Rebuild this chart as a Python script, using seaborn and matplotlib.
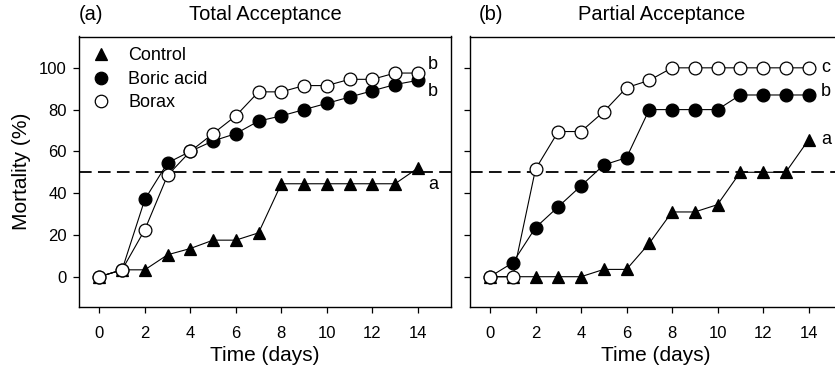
import numpy as np
import pandas as pd
import matplotlib
matplotlib.use("Agg")
import matplotlib.pyplot as plt
from matplotlib.lines import Line2D
import seaborn as sns

days = list(range(15))

# Panel (a) Total Acceptance
total_control = [0, 3.3, 3.3, 10.5, 13.5, 17.5, 17.5, 21, 44.5, 44.5, 44.5, 44.5, 44.5, 44.5, 52]
total_boric = [0, 3.3, 37, 54.5, 60, 65, 68.5, 74.5, 77, 80, 83, 86, 89, 92, 94]
total_borax = [0, 3.3, 22.5, 48.5, 60, 68.5, 77, 88.5, 88.5, 91.5, 91.5, 94.5, 94.5, 97.5, 97.5]

# Panel (b) Partial Acceptance
partial_control = [0, 0, 0, 0, 0, 3.5, 3.5, 16, 31, 31, 34.5, 50, 50, 50, 65.5]
partial_boric = [0, 6.7, 23.5, 33.5, 43.5, 53.5, 57, 80, 80, 80, 80, 87, 87, 87, 87]
partial_borax = [0, 0, 51.5, 69.5, 69.5, 79, 90.5, 94, 100, 100, 100, 100, 100, 100, 100]

series_names = ["Control", "Boric acid", "Borax"]
panel_titles = ["Total Acceptance", "Partial Acceptance"]
panel_tags = ["(a)", "(b)"]
letters_total = ["b", "b", "a"]
letters_partial = ["c", "b", "a"]

sns.set_style("ticks")
plt.rcParams["font.family"] = ["Liberation Sans", "DejaVu Sans"]
plt.rcParams["text.color"] = "black"
plt.rcParams["axes.labelcolor"] = "black"
plt.rcParams["xtick.color"] = "black"
plt.rcParams["ytick.color"] = "black"
plt.rcParams["axes.edgecolor"] = "black"

W, H = 835, 372
fig = plt.figure(figsize=(W / 100, H / 100), dpi=100)

def fx(px):
    return px / W

def fy(py):
    return 1 - py / H

ax_bottom, ax_top = 307, 36.5
ax_w = 371.5
axL = fig.add_axes([fx(79.3), fy(ax_bottom), ax_w / W, (ax_bottom - ax_top) / H])
axR = fig.add_axes([fx(470), fy(ax_bottom), ax_w / W, (ax_bottom - ax_top) / H])

styles = {
    "Control": dict(marker="^", mfc="black"),
    "Boric acid": dict(marker="o", mfc="black"),
    "Borax": dict(marker="o", mfc="white"),
}

panels = [
    (axL, [total_control, total_boric, total_borax], letters_total,
     [(14.45, 101.5), (14.45, 88.7), (14.45, 44.3)]),
    (axR, [partial_control, partial_boric, partial_borax], letters_partial,
     [(14.56, 100.1), (14.56, 88.7), (14.56, 65.9)]),
]

for i, (ax, vals, letters, letter_pos) in enumerate(panels):
    ax.axhline(50, color="black", lw=1.3, ls=(0, (7, 3.5)), zorder=1)
    for z, (name, v) in enumerate(zip(series_names, vals)):
        df = pd.DataFrame({"day": days, "mortality": v})
        st = styles[name]
        sns.lineplot(data=df, x="day", y="mortality", ax=ax, color="black",
                     lw=0.8, marker=st["marker"], markersize=9 if st["marker"] == "^" else 9.2,
                     markerfacecolor=st["mfc"], markeredgecolor="black",
                     markeredgewidth=0.9, zorder=3 + z, legend=False)
    for let, (lx, ly) in zip(letters, letter_pos):
        ax.text(lx, ly, let, fontsize=13, ha="left", va="center", color="black")
    ax.set_xlim(-0.88, 15.45)
    ax.set_ylim(-14.5, 115)
    ax.set_xticks(range(0, 15, 2))
    ax.set_yticks(range(0, 101, 20))
    ax.tick_params(axis="both", direction="out", length=4, width=0.9,
                   labelsize=12, colors="black")
    ax.tick_params(axis="x", pad=10)
    ax.tick_params(axis="y", pad=5)
    for sp in ax.spines.values():
        sp.set_visible(True)
        sp.set_linewidth(1.0)
        sp.set_color("black")
    ax.set_xlabel("Time (days)", fontsize=15, labelpad=3, color="black")
    ax.set_ylabel("")
    ax.grid(False)

axL.set_ylabel("Mortality (%)", fontsize=15, labelpad=6, color="black")
axR.tick_params(axis="y", labelleft=False)

# legend
handles = [Line2D([], [], ls="none", marker=styles[n]["marker"], mfc=styles[n]["mfc"],
                  mec="black", mew=0.9, ms=9) for n in series_names]
leg = axL.legend(handles, series_names, loc="upper left", bbox_to_anchor=(0.0, 1.0),
                 frameon=False, fontsize=13, handlelength=1.2, handletextpad=0.9,
                 labelspacing=0.36, borderpad=0.3, borderaxespad=0.3)
for t in leg.get_texts():
    t.set_color("black")

# titles and tags
fig.text(fx(91), fy(15), panel_tags[0], fontsize=14.5, ha="center", va="center", color="black")
fig.text(fx(491), fy(15), panel_tags[1], fontsize=14.5, ha="center", va="center", color="black")
fig.text(fx(265), fy(15), panel_titles[0], fontsize=14.5, ha="center", va="center", color="black")
fig.text(fx(662), fy(15), panel_titles[1], fontsize=14.5, ha="center", va="center", color="black")

fig.savefig("out.png", dpi=100)
